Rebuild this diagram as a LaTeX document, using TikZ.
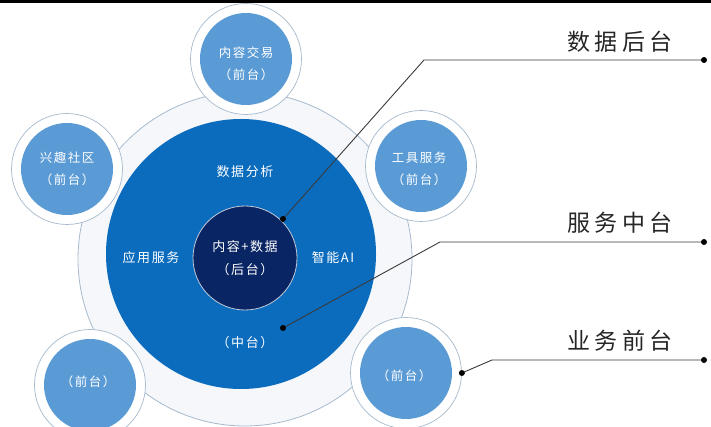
\documentclass[tikz,border=0pt]{standalone}
\usepackage{fontspec}
\newfontfamily\cjk[LetterSpace=12]{Noto Sans CJK SC}
\newfontfamily\cjkbig[LetterSpace=18]{Noto Sans CJK SC}
\definecolor{midblue}{HTML}{0B6CBE}
\definecolor{navy}{HTML}{0A2563}
\definecolor{satblue}{HTML}{5B9BD5}
\definecolor{ringline}{HTML}{A7BACD}
\definecolor{outerfill}{HTML}{F5F7FA}
\definecolor{leader}{HTML}{3A3A3A}
\tikzset{
  satring/.style={circle, draw=ringline, line width=0.7pt, fill=white, minimum size=111pt, inner sep=0pt},
  satcore/.style={circle, fill=satblue, minimum size=92pt, inner sep=0pt},
  sattext/.style={text=white, align=center, font=\cjk\fontsize{12.5}{22}\selectfont},
  intext/.style={text=white, align=center, font=\cjk\fontsize{13}{24}\selectfont},
  bigtext/.style={text=black!85, font=\cjkbig\fontsize{23}{26}\selectfont},
  leaderline/.style={draw=leader, line width=0.9pt},
  dot/.style={circle, fill=black, inner sep=0pt, minimum size=6pt},
}
\begin{document}
\begin{tikzpicture}[x=1pt,y=-1pt]
\useasboundingbox (0,0) rectangle (711,427);
\clip (0,0) rectangle (711,427);
\fill[black] (0,0) rectangle (711,3.5);
% big outer circle
\node[circle, draw=ringline, line width=0.8pt, fill=outerfill, minimum size=334pt, inner sep=0pt] (outer) at (245,259) {};
% medium blue
\node[circle, fill=midblue, minimum size=270pt, inner sep=0pt] (mid) at (241,254) {};
% inner navy
\node[circle, fill=navy, draw=white!75!navy, line width=0.8pt, minimum size=104pt, inner sep=0pt, text=white, align=center,
      font=\cjk\fontsize{13}{23}\selectfont] (core) at (245,258) {内容+数据\\（后台）};
\node[intext] (t1) at (245,172) {数据分析};
\node[intext] (t2) at (151,258) {应用服务};
\node[intext] (t3) at (333,258) {智能AI};
\node[intext] (t4) at (245,343) {（中台）};
% satellites
\node[satring] (sT) at (246,59) {};
\node[satcore] (cT) at (sT.center) {};
\node[sattext] (xT) at (246,64) {内容交易\\（前台）};
\node[satring] (sUL) at (67,169) {};
\node[satcore] (cUL) at (sUL.center) {};
\node[sattext] (xUL) at (67,169) {兴趣社区\\（前台）};
\node[satring] (sUR) at (421,166) {};
\node[satcore] (cUR) at (sUR.center) {};
\node[sattext] (xUR) at (419,169) {工具服务\\（前台）};
\node[satring] (sLL) at (90,385) {};
\node[satcore] (cLL) at (sLL.center) {};
\node[sattext] (xLL) at (88,382) {（前台）};
\node[satring] (sLR) at (406,373) {};
\node[satcore] (cLR) at (sLR.center) {};
\node[sattext] (xLR) at (404,376) {（前台）};
% leader coordinates
\coordinate (d1) at (283,219);
\coordinate (k1) at (424,60);
\coordinate (e1) at (704,60);
\coordinate (d2) at (283,328);
\coordinate (k2) at (440,242);
\coordinate (e2) at (704,242);
\coordinate (d3) at (sLR.east);
\coordinate (k3) at (492,360);
\coordinate (e3) at (704,360);
\draw[leaderline] (d1) -- (k1) -- (e1);
\draw[leaderline] (d2) -- (k2) -- (e2);
\draw[leaderline] (d3) -- (k3) -- (e3);
\foreach \p in {d1,e1,d2,e2,d3,e3} \node[dot] at (\p) {};
% labels
\node[bigtext] (L1) at (620,42) {数据后台};
\node[bigtext] (L2) at (620,223) {服务中台};
\node[bigtext] (L3) at (620,341) {业务前台};
\end{tikzpicture}
\end{document}
